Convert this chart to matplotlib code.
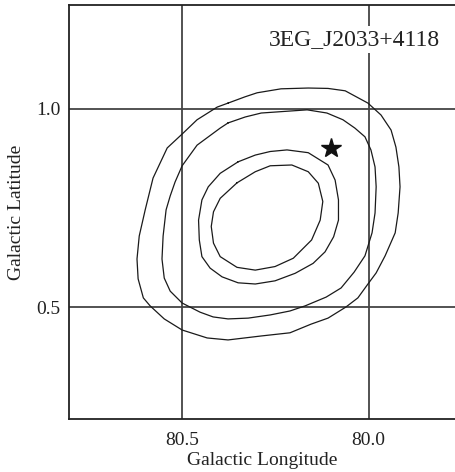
import matplotlib
matplotlib.use("Agg")
import matplotlib.pyplot as plt

plt.rcParams['font.family'] = ['Liberation Serif', 'DejaVu Serif']

# contour levels (galactic lon, lat), outermost first
c1_lon = [80.377, 80.331, 80.299, 80.235, 80.162, 80.109, 80.063, 80.002, 79.967, 79.940,
          79.927, 79.919, 79.916, 79.921, 79.929, 79.956, 79.980, 80.002, 80.029, 80.061,
          80.109, 80.154, 80.211, 80.288, 80.377, 80.433, 80.500, 80.548, 80.586, 80.604,
          80.618, 80.621, 80.615, 80.599, 80.578, 80.540, 80.500, 80.460, 80.406]
c1_lat = [1.014, 1.030, 1.040, 1.050, 1.052, 1.051, 1.045, 1.014, 0.984, 0.946,
          0.903, 0.853, 0.803, 0.737, 0.687, 0.629, 0.586, 0.558, 0.523, 0.500,
          0.472, 0.457, 0.435, 0.427, 0.417, 0.422, 0.442, 0.470, 0.503, 0.523,
          0.571, 0.621, 0.679, 0.745, 0.825, 0.901, 0.936, 0.972, 1.004]

c2_lon = [80.377, 80.331, 80.288, 80.211, 80.165, 80.112, 80.069, 80.037, 80.010, 79.994,
          79.983, 79.980, 79.983, 79.991, 80.010, 80.039, 80.074, 80.114, 80.170, 80.211,
          80.264, 80.323, 80.377, 80.417, 80.452, 80.500, 80.532, 80.548, 80.554, 80.551,
          80.543, 80.532, 80.519, 80.500, 80.460, 80.398]
c2_lat = [0.964, 0.979, 0.989, 0.994, 0.997, 0.989, 0.972, 0.951, 0.929, 0.896,
          0.853, 0.803, 0.737, 0.687, 0.629, 0.588, 0.548, 0.525, 0.503, 0.490,
          0.480, 0.472, 0.470, 0.475, 0.487, 0.510, 0.540, 0.573, 0.621, 0.679,
          0.745, 0.780, 0.815, 0.856, 0.908, 0.951]

c3_lon = [80.350, 80.304, 80.264, 80.219, 80.162, 80.109, 80.090, 80.081, 80.081, 80.094,
          80.117, 80.149, 80.197, 80.251, 80.304, 80.350, 80.393, 80.425, 80.447, 80.454,
          80.456, 80.447, 80.430, 80.398]
c3_lat = [0.866, 0.883, 0.892, 0.896, 0.889, 0.858, 0.820, 0.770, 0.719, 0.677,
          0.639, 0.610, 0.585, 0.566, 0.558, 0.561, 0.576, 0.598, 0.627, 0.669,
          0.719, 0.770, 0.803, 0.837]

c4_lon = [80.353, 80.304, 80.264, 80.206, 80.162, 80.135, 80.123, 80.130, 80.153, 80.202,
          80.251, 80.304, 80.353, 80.398, 80.416, 80.422, 80.416, 80.398]
c4_lat = [0.813, 0.841, 0.856, 0.858, 0.841, 0.812, 0.766, 0.719, 0.669, 0.623,
          0.602, 0.593, 0.600, 0.627, 0.661, 0.703, 0.740, 0.774]

star_lon = 80.10
star_lat = 0.90

xticks = [80.5, 80.0]
xtick_labels = ['80.5', '80.0']
yticks = [0.5, 1.0]
ytick_labels = ['0.5', '1.0']

fig = plt.figure(figsize=(4.56, 4.72), dpi=100)
ax = fig.add_axes([0.1507, 0.1117, 0.8493, 0.8783])

for lon, lat in [(c1_lon, c1_lat), (c2_lon, c2_lat), (c3_lon, c3_lat), (c4_lon, c4_lat)]:
    ax.plot(lon + lon[:1], lat + lat[:1], color='#1a1a1a', lw=0.9)

ax.plot(star_lon, star_lat, marker='*', ms=15, color='#111111', ls='none')

ax.set_xlim(80.804, 79.766)
ax.set_ylim(0.217, 1.262)
ax.set_xticks(xticks)
ax.set_xticklabels(xtick_labels)
ax.set_yticks(yticks)
ax.set_yticklabels(ytick_labels)
ax.tick_params(length=0, labelsize=14, colors='#222222')
ax.tick_params(axis='x', pad=9)
ax.tick_params(axis='y', pad=6)
ax.grid(True, color='#444444', lw=1.3)
ax.set_axisbelow(True)

for s in ['left', 'top', 'bottom']:
    ax.spines[s].set_color('#222222')
    ax.spines[s].set_linewidth(1.3)
ax.spines['right'].set_visible(False)

ax.set_xlabel('Galactic Longitude', fontsize=14, color='#222222', labelpad=2)
ax.set_ylabel('Galactic Latitude', fontsize=14, color='#222222', labelpad=8)

ax.text(0.7366, 0.9028, '3EG_J2033+4118', transform=ax.transAxes, ha='center',
        va='baseline', fontsize=17, color='#222222',
        bbox=dict(facecolor='white', edgecolor='none', pad=2))

fig.savefig('out.png', dpi=100)
